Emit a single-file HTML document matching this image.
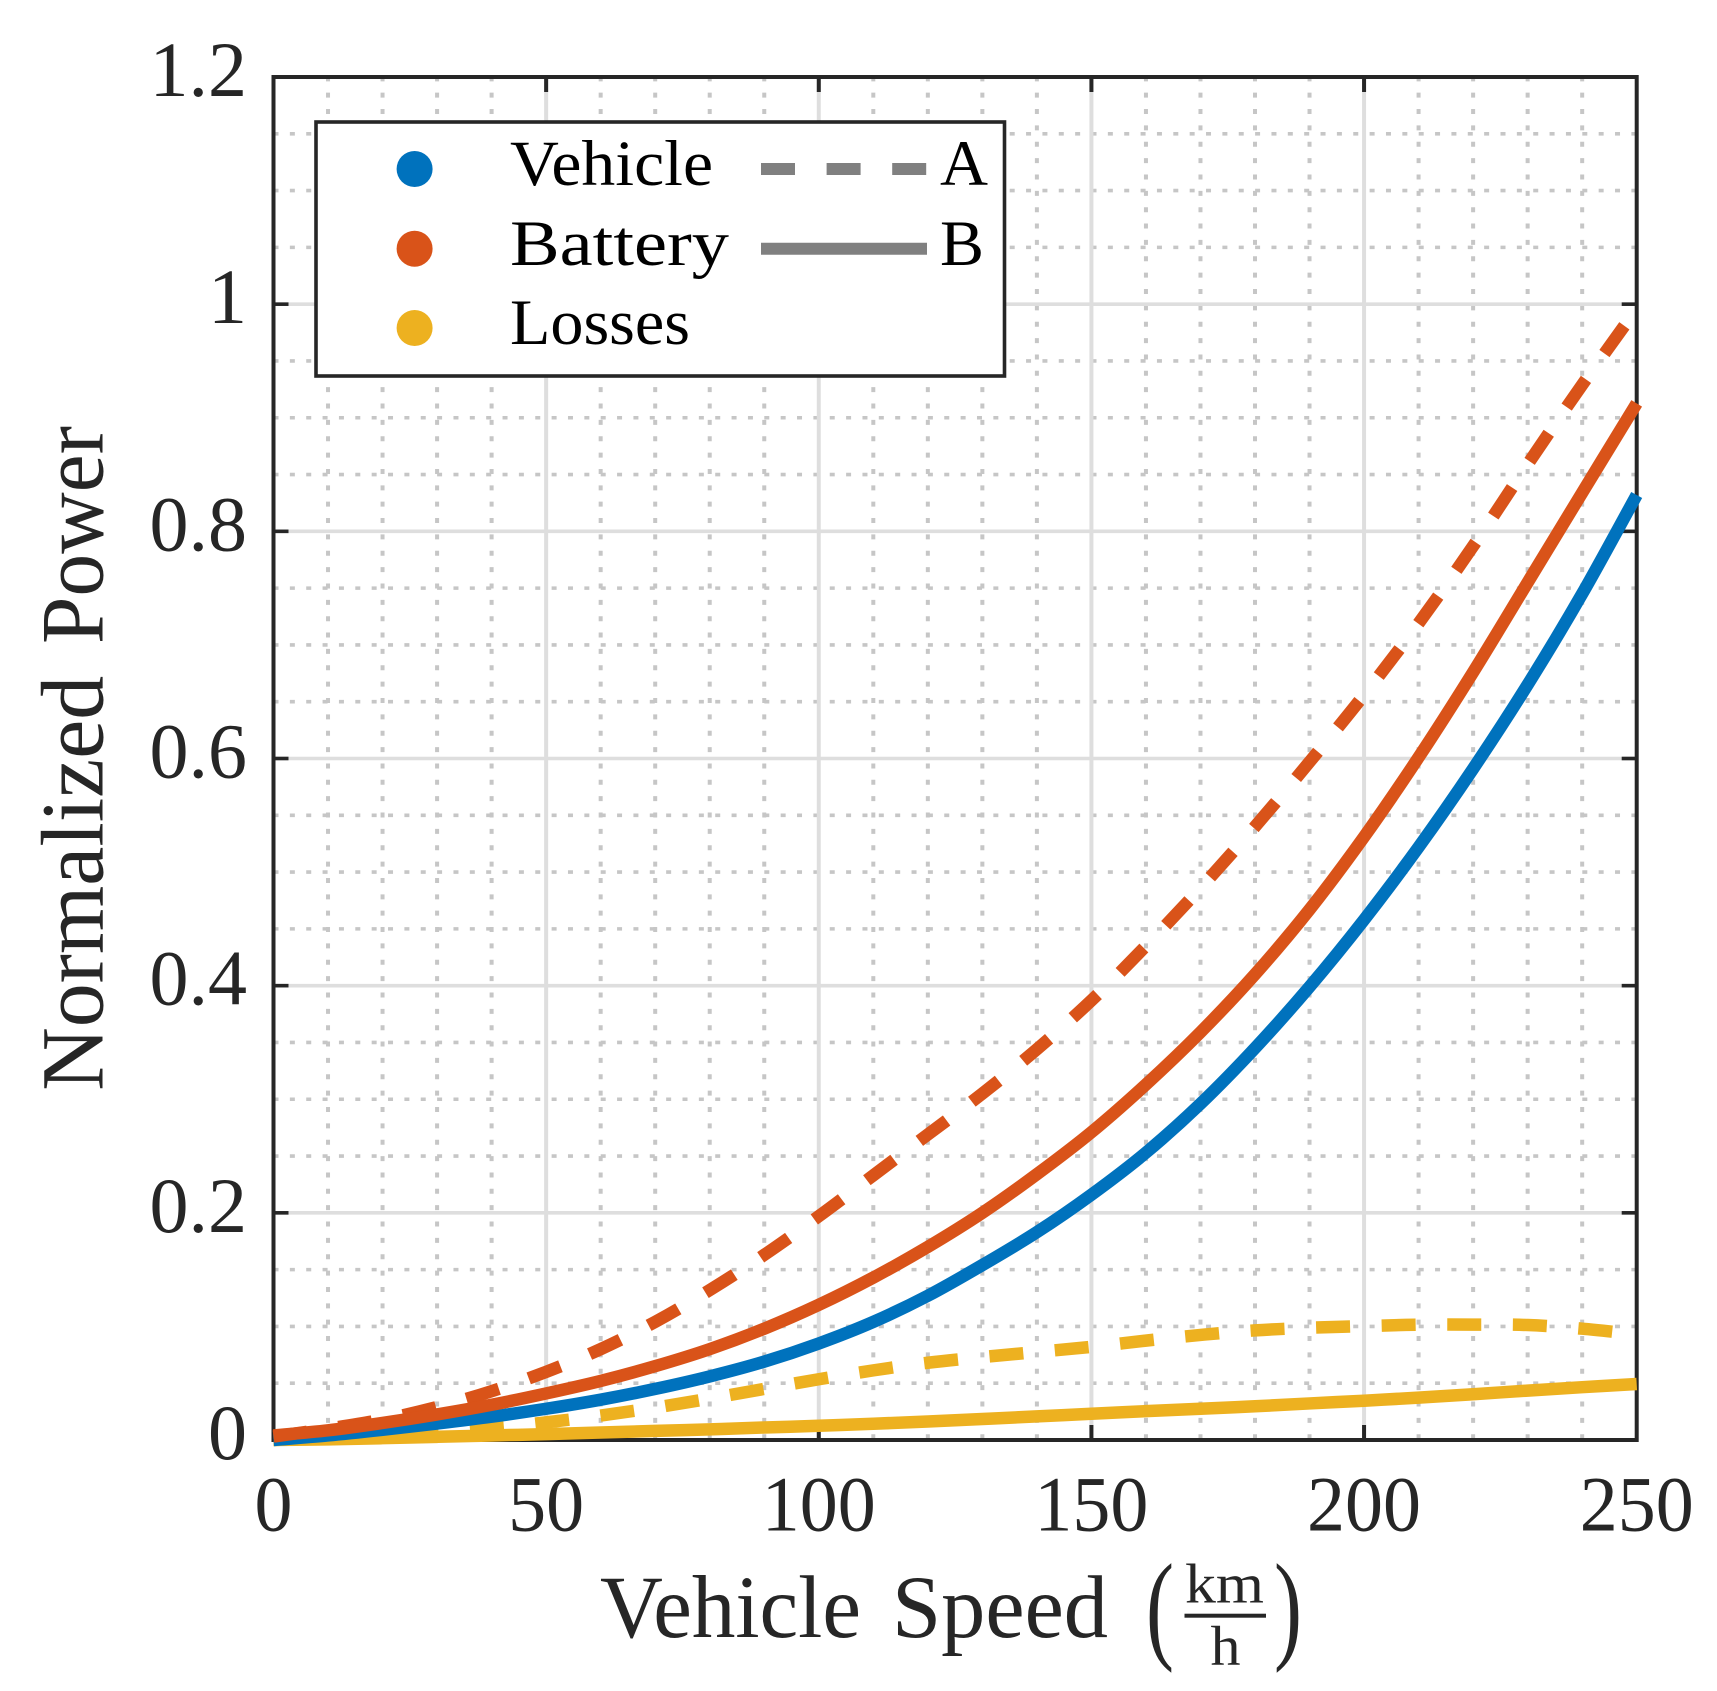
<!DOCTYPE html>
<html>
<head>
<meta charset="utf-8">
<title>Normalized Power vs Vehicle Speed</title>
<style>
html,body{margin:0;padding:0;background:#fff;}
svg{display:block;}
text{font-family:"Liberation Serif",serif;fill:#262626;}
.lg{fill:#000;font-size:65px;}
</style>
</head>
<body>
<svg id="chart" xmlns="http://www.w3.org/2000/svg" width="1717" height="1691" viewBox="0 0 1717 1691">
  <rect x="0" y="0" width="1717" height="1691" fill="#fff"/>
  <g id="minor-grid"></g>
  <g id="major-grid"></g>
  <rect x="273.5" y="77" width="1363.2" height="1363" fill="none" stroke="#262626" stroke-width="4"/>
  <g id="ticks"></g>
  <g id="tick-labels"></g>
  <g id="series"></g>

  <g>
    <rect x="316" y="122" width="688.5" height="254" fill="#fff" stroke="#262626" stroke-width="3.6"/>
    <circle cx="414.6" cy="169" r="18" fill="#0072BD"/>
    <circle cx="414.6" cy="248.7" r="18" fill="#D95319"/>
    <circle cx="414.6" cy="328" r="18" fill="#EDB120"/>
    <text class="lg" x="510" y="185" textLength="203" lengthAdjust="spacingAndGlyphs">Vehicle</text>
    <text class="lg" x="510" y="265" textLength="219" lengthAdjust="spacingAndGlyphs">Battery</text>
    <text class="lg" x="510" y="344" textLength="180" lengthAdjust="spacingAndGlyphs">Losses</text>
    <line x1="761" y1="169" x2="927" y2="169" stroke="#808080" stroke-width="12" stroke-dasharray="34 31.6"/>
    <line x1="761" y1="248.7" x2="927" y2="248.7" stroke="#808080" stroke-width="12"/>
    <text class="lg" x="940" y="185" textLength="48" lengthAdjust="spacingAndGlyphs">A</text>
    <text class="lg" x="940" y="265" textLength="44" lengthAdjust="spacingAndGlyphs">B</text>
  </g>

  <g>
    <text x="600" y="1637" font-size="89" textLength="261" lengthAdjust="spacingAndGlyphs">Vehicle</text>
    <text x="892" y="1637" font-size="89" textLength="216" lengthAdjust="spacingAndGlyphs">Speed</text>
    <text x="1146" y="1647" font-size="121" textLength="28" lengthAdjust="spacingAndGlyphs">(</text>
    <text x="1185" y="1602.7" font-size="56" textLength="79" lengthAdjust="spacingAndGlyphs">km</text>
    <rect x="1184.5" y="1613.7" width="81.5" height="4" fill="#262626"/>
    <text x="1210.5" y="1665" font-size="56" textLength="30" lengthAdjust="spacingAndGlyphs">h</text>
    <text x="1274" y="1647" font-size="121" textLength="28" lengthAdjust="spacingAndGlyphs">)</text>
  </g>
  <g>
    <text transform="translate(102.7,1090.8) rotate(-90)" font-size="89" textLength="415" lengthAdjust="spacingAndGlyphs">Normalized</text>
    <text transform="translate(102.7,644) rotate(-90)" font-size="89" textLength="218" lengthAdjust="spacingAndGlyphs">Power</text>
  </g>
</svg>
<script>
const speeds = [0,10,20,30,40,50,60,70,80,90,100,110,120,130,140,150,160,170,180,190,200,210,220,230,240,250];
const vehicleB = [0,.004,.009,.0145,.0205,.0275,.0355,.045,.056,.069,.085,.104,.127,.154,.183,.216,.253,.296,.345,.399,.458,.522,.591,.665,.745,.832];
const batteryB = [.004,.0085,.015,.0225,.031,.041,.052,.065,.08,.098,.119,.143,.17,.2,.234,.271,.313,.359,.41,.467,.531,.601,.676,.755,.834,.9127];
const batteryA = [.003,.010,.018,.029,.043,.060,.080,.104,.132,.163,.197,.233,.269,.305,.344,.387,.435,.486,.54,.597,.656,.719,.787,.859,.929,.996];
const lossesA = [0,.002,.004,.007,.0108,.0155,.0215,.0285,.0365,.045,.0535,.0613,.068,.073,.0775,.082,.0875,.0925,.0965,.0988,.1003,.1015,.1016,.1012,.098,.093];
const lossesB = [0,.0006,.0016,.0028,.004,.0052,.0066,.008,.0094,.011,.0125,.0143,.0163,.0185,.0208,.0231,.0254,.0275,.0297,.0322,.0346,.0373,.0403,.0435,.0465,.0493];
const xTicks = [0,50,100,150,200,250];
const yTicks = [0,.2,.4,.6,.8,1,1.2];
const xTickLabels = ["0","50","100","150","200","250"];
const yTickLabels = ["0","0.2","0.4","0.6","0.8","1","1.2"];
const xMinor = [10,20,30,40,60,70,80,90,110,120,130,140,160,170,180,190,210,220,230,240];
const yMinor = [.05,.1,.15,.25,.3,.35,.45,.5,.55,.65,.7,.75,.85,.9,.95,1.05,1.1,1.15];

const NS = 'http://www.w3.org/2000/svg';
const PL = 273.5, PR = 1636.7, PT = 77, PB = 1440;
const xScale = s => PL + (PR - PL) * s / 250;
const yScale = v => PB - (PB - PT) * v / 1.2;
const make = (parent, tag) => {
  const el = document.createElementNS(NS, tag);
  parent.appendChild(el);
  return el;
};
const minorG = document.getElementById('minor-grid');
const majorG = document.getElementById('major-grid');
const ticksG = document.getElementById('ticks');
const labelsG = document.getElementById('tick-labels');
const seriesG = document.getElementById('series');

function seg(parent, x1, y1, x2, y2, color, w, dash) {
  const l = make(parent, 'line');
  l.setAttribute('x1', x1); l.setAttribute('y1', y1);
  l.setAttribute('x2', x2); l.setAttribute('y2', y2);
  l.setAttribute('stroke', color); l.setAttribute('stroke-width', w);
  if (dash) l.setAttribute('stroke-dasharray', dash);
  return l;
}

xMinor.forEach(s => {
  const l = seg(minorG, xScale(s), PB - 0.8, xScale(s), PT, '#c6c6c6', 4, '5 11.36');
  
  
});
yMinor.forEach(v => {
  const l = seg(minorG, PL, yScale(v), PR, yScale(v), '#c6c6c6', 3.6, '5 11.36');
  
  
});
xTicks.slice(1, -1).forEach(s => {
  const l = seg(majorG, xScale(s), PB, xScale(s), PT, '#dedede', 4);
  
  
});
yTicks.slice(1, -1).forEach(v => {
  const l = seg(majorG, PL, yScale(v), PR, yScale(v), '#dedede', 3.6);
  
  
});
xTicks.slice(1, -1).forEach(s => {
  const a = seg(ticksG, xScale(s), PB, xScale(s), PB - 15, '#262626', 4);
  
  
  const b = seg(ticksG, xScale(s), PT, xScale(s), PT + 15, '#262626', 4);
  
  
});
yTicks.slice(1, -1).forEach(v => {
  const a = seg(ticksG, PL, yScale(v), PL + 15, yScale(v), '#262626', 3.6);
  
  
  const b = seg(ticksG, PR, yScale(v), PR - 15, yScale(v), '#262626', 3.6);
  
  
});
xTicks.forEach((s, i) => {
  const t = make(labelsG, 'text');
  const label = xTickLabels[i];
  const w = 38 * label.length;
  t.textContent = label;
  t.setAttribute('x', xScale(s) - w / 2);
  t.setAttribute('y', 1530.5);
  t.setAttribute('font-size', 78);
  t.setAttribute('textLength', w);
  t.setAttribute('lengthAdjust', 'spacingAndGlyphs');
  
  
});
yTicks.forEach((v, i) => {
  const t = make(labelsG, 'text');
  t.textContent = yTickLabels[i];
  t.setAttribute('x', 247);
  t.setAttribute('y', yScale(v) + 19);
  t.setAttribute('font-size', 78);
  t.setAttribute('text-anchor', 'end');
  
  
});

function curve(values) {
  const p = speeds.map((s, i) => [xScale(s), yScale(values[i])]);
  let d = 'M' + p[0][0].toFixed(2) + ' ' + p[0][1].toFixed(2);
  for (let i = 0; i < p.length - 1; i++) {
    const a = p[Math.max(i - 1, 0)], b = p[i], c = p[i + 1], e = p[Math.min(i + 2, p.length - 1)];
    const c1x = b[0] + (c[0] - a[0]) / 6, c1y = b[1] + (c[1] - a[1]) / 6;
    const c2x = c[0] - (e[0] - b[0]) / 6, c2y = c[1] - (e[1] - b[1]) / 6;
    d += 'C' + c1x.toFixed(2) + ' ' + c1y.toFixed(2) + ' ' + c2x.toFixed(2) + ' ' + c2y.toFixed(2) + ' ' + c[0].toFixed(2) + ' ' + c[1].toFixed(2);
  }
  return d;
}
function drawSeries(values, color, dashed) {
  const path = make(seriesG, 'path');
  path.setAttribute('d', curve(values));
  path.setAttribute('fill', 'none');
  path.setAttribute('stroke', color);
  path.setAttribute('stroke-width', 12.5);
  path.setAttribute('stroke-linejoin', 'round');
  if (dashed) path.setAttribute('stroke-dasharray', '34 31.6');
  return path;
}
const lineLossesA = drawSeries(lossesA, '#EDB120', true);


const lineLossesB = drawSeries(lossesB, '#EDB120', false);


const lineVehicleB = drawSeries(vehicleB, '#0072BD', false);


const lineBatteryA = drawSeries(batteryA, '#D95319', true);


const lineBatteryB = drawSeries(batteryB, '#D95319', false);


</script>
</body>
</html>
